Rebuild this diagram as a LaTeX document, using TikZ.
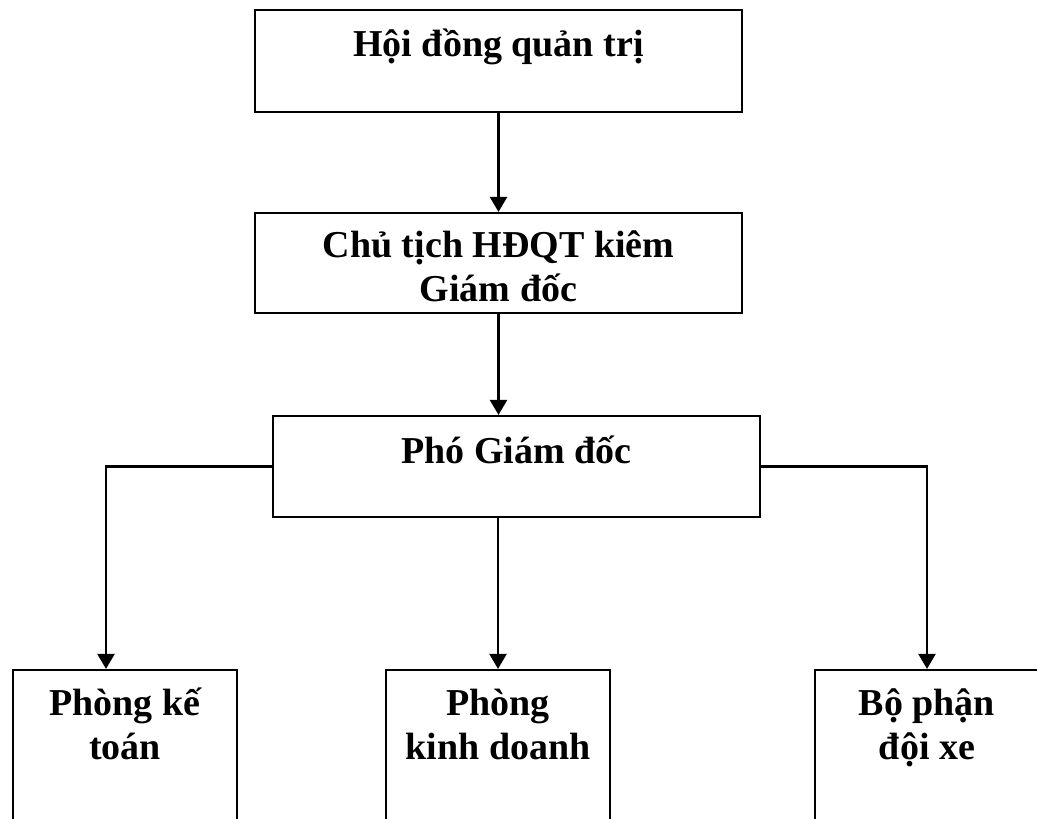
\documentclass[tikz,border=0pt]{standalone}
\usepackage{fontspec}
\setmainfont{Liberation Serif}
\usetikzlibrary{arrows.meta}

% text of a box: width, height, first baseline, text
\newcommand{\hopchu}[4]{\parbox[c][#2][t]{#1}{\centering\rule{0pt}{#3}#4}}

\tikzset{
  box/.style={draw, line width=1.1pt, inner sep=0pt,
    font=\bfseries\fontsize{19}{22}\selectfont},
  arr/.style={line width=1.2pt, -{Triangle[length=7.5pt,width=8.5pt]}}
}

\begin{document}
\begin{tikzpicture}[x=0.5pt, y=-0.5pt]
	\useasboundingbox (0,0) rectangle (1037,818);
	\clip (0,0) rectangle (1037,818);
	\node[box] (hdqt) at (498.5,61) {\hopchu{243.5pt}{51pt}{23.5pt}{Hội đồng quản trị}};
	\node[box] (ctgd) at (498.5,263) {\hopchu{243.5pt}{50pt}{22.5pt}{Chủ tịch HĐQT kiêm\\Giám đốc}};
	\node[box] (pgd) at (516.5,466.5) {\hopchu{243.5pt}{50.5pt}{23.5pt}{Phó Giám đốc}};
	\node[box] (ketoan) at (125,770) {\hopchu{112pt}{100pt}{22.5pt}{Phòng kế\\toán}};
	\node[box] (kinhdoanh) at (498,770) {\hopchu{112pt}{100pt}{22.5pt}{Phòng\\kinh doanh}};
	\node[box] (doixe) at (927,770) {\hopchu{112pt}{100pt}{22.5pt}{Bộ phận\\đội xe}};
	\coordinate (ketoan-in) at ([xshift=-9.5pt]ketoan.north);
	% connectors
	\draw[arr] (hdqt) -- (ctgd);
	\draw[arr] (ctgd.south) -- (ctgd.south |- pgd.north);
	\draw[arr] (pgd.west) -| (ketoan-in);
	\draw[arr] (pgd.south -| kinhdoanh.north) -- (kinhdoanh.north);
	\draw[arr] (pgd.east) -| (doixe.north);
\end{tikzpicture}
\end{document}
